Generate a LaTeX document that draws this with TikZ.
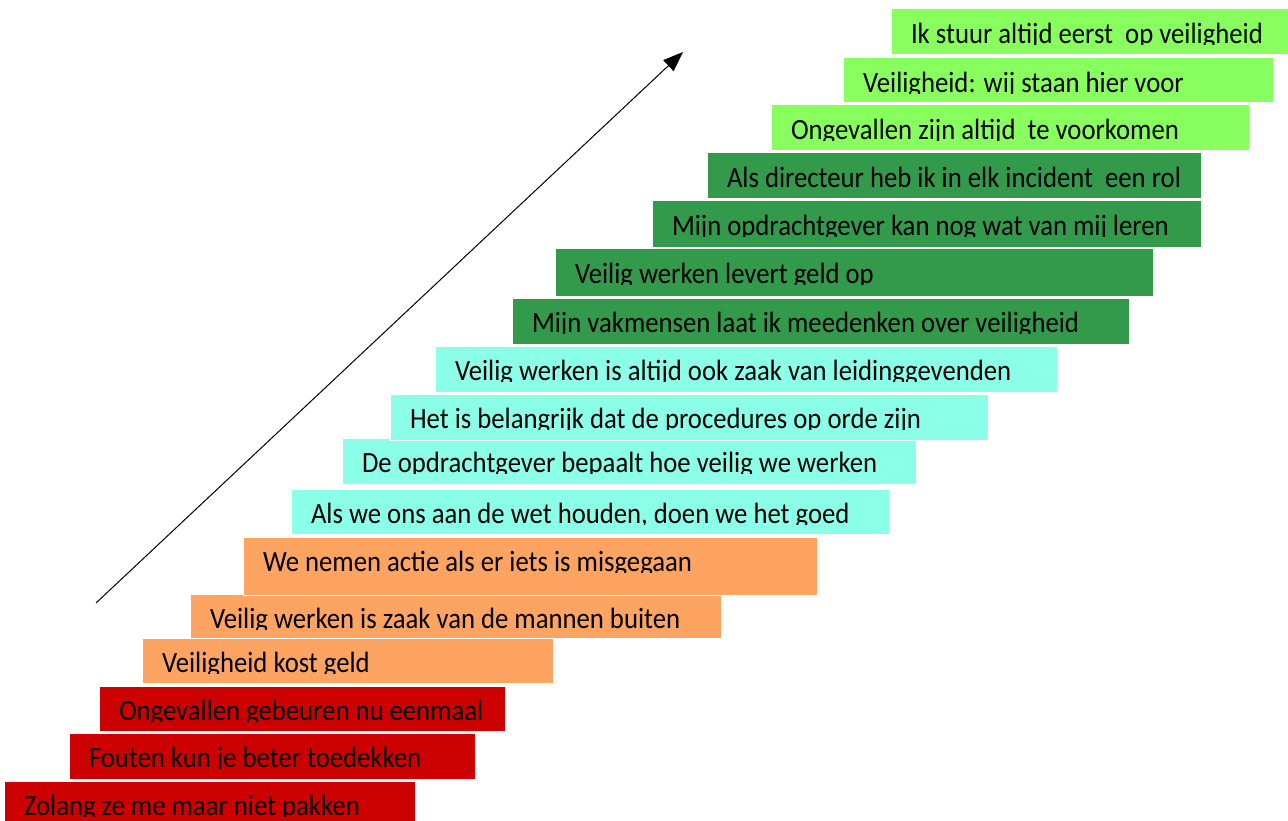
\documentclass[tikz,border=0pt]{standalone}
\usepackage{fontspec}
\setmainfont{Carlito}
\usetikzlibrary{arrows.meta,calc}
\definecolor{cred}{HTML}{CC0000}
\definecolor{corange}{HTML}{FDA463}
\definecolor{ccyan}{HTML}{8CFFE9}
\definecolor{cdgreen}{HTML}{339A4B}
\definecolor{clgreen}{HTML}{88FF5E}
\tikzset{
  stairbox/.style={draw=white, line width=1pt, inner sep=0pt, outer sep=0pt, anchor=north west},
  stairtext/.style={anchor=base west, inner sep=0pt, outer sep=0pt, font=\fontsize{26.7}{30}\selectfont, text=black},
  riser/.style={draw=black, line width=1pt, -{Triangle[length=20pt,width=15pt]}}
}
% #1 name, #2 x, #3 y (top, downward), #4 width, #5 height, #6 colour, #7 text
\newcommand\mkstair[7]{%
  \node[stairbox, fill=#6, minimum width=#4pt, minimum height=#5pt] (#1) at (#2,#3) {};
  \begin{scope}
    \clip (#1.north west) rectangle ($(#1.north east)+(0,35.5)$);
    \node[stairtext] (#1t) at ($(#1.north west)+(20,34.5)$) {\scalebox{1}[1.1]{#7}};
  \end{scope}
}
\begin{document}
\begin{tikzpicture}[x=1pt,y=-1pt]
\useasboundingbox (0,0) rectangle (1288,821);
\fill[white] (0,0) rectangle (1288,821);
\mkstair{s1}{4}{781}{411}{46}{cred}{Zolang ze me maar niet pakken}
\mkstair{s2}{69}{733}{406}{46}{cred}{Fouten kun je beter toedekken}
\mkstair{s3}{99}{686}{406}{45}{cred}{Ongevallen gebeuren nu eenmaal}
\mkstair{s4}{142}{638}{411}{45}{corange}{Veiligheid kost geld}
\mkstair{s5}{190}{594}{531}{44}{corange}{Veilig werken is zaak van de mannen buiten}
\mkstair{s6}{243}{537}{574}{58}{corange}{We nemen actie als er iets is misgegaan}
\mkstair{s7}{291}{489}{598}{45}{ccyan}{Als we ons aan de wet houden, doen we het goed}
\mkstair{s8}{342}{438}{574}{46}{ccyan}{De opdrachtgever bepaalt hoe veilig we werken}
\mkstair{s9}{390}{394}{598}{46}{ccyan}{Het is belangrijk dat de procedures op orde zijn}
\mkstair{s10}{435}{346}{622}{46}{ccyan}{Veilig werken is altijd ook zaak van leidinggevenden}
\mkstair{s11}{512}{298}{617}{46}{cdgreen}{Mijn vakmensen laat ik meedenken over veiligheid}
\mkstair{s12}{555}{249}{598}{47}{cdgreen}{Veilig werken levert geld op}
\mkstair{s13}{652}{201}{549}{47}{cdgreen}{Mijn opdrachtgever kan nog wat van mij leren}
\mkstair{s14}{707}{153}{494}{46}{cdgreen}{Als directeur heb ik in elk incident\ \ een rol}
\mkstair{s15}{771}{105}{478}{46}{clgreen}{Ongevallen zijn altijd\ \ te voorkomen}
\mkstair{s16}{843}{58}{430}{45}{clgreen}{Veiligheid: wij staan hier voor}
\mkstair{s17}{891}{9}{397}{46}{clgreen}{Ik stuur altijd eerst\ \ op veiligheid}
\coordinate (arrowstart) at (96,603);
\coordinate (arrowend) at (683,52);
\draw[riser] (arrowstart) -- (arrowend);
\end{tikzpicture}
\end{document}
